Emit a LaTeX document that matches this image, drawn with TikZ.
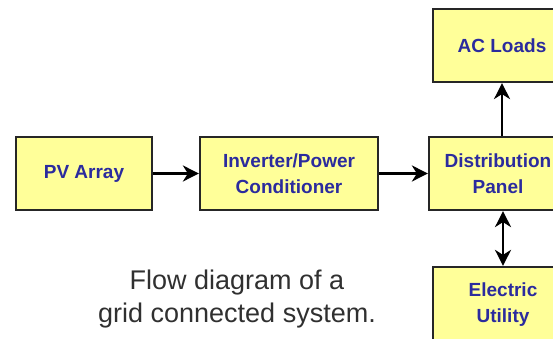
\documentclass[tikz,border=0pt]{standalone}
\usepackage{fontspec}
\setmainfont{Liberation Sans}
\usetikzlibrary{arrows.meta}
\definecolor{boxfill}{HTML}{FFFF99}
\definecolor{boxline}{HTML}{262626}
\definecolor{labelblue}{HTML}{2B2B9E}
\definecolor{captiongray}{HTML}{303030}
\tikzset{
  block/.style={rectangle, draw=boxline, fill=boxfill, line width=2.2pt, align=center,
                minimum height=73pt, text=labelblue, font=\fontsize{19}{26}\selectfont\bfseries},
  flow/.style={-{Stealth[length=16pt,width=16pt,inset=5pt]}, draw=black, line width=2.5pt},
  twoway/.style={{Stealth[length=16pt,width=16pt,inset=5pt]}-{Stealth[length=16pt,width=16pt,inset=5pt]},
                draw=black, line width=2.5pt},
  caption/.style={align=center, text=captiongray, font=\fontsize{27}{33}\selectfont},
}
\begin{document}
\begin{tikzpicture}[x=1pt,y=1pt]
\useasboundingbox (0,0) rectangle (553,339);
\clip (0,0) rectangle (553,339);

\node[block, minimum width=136pt] (pv)   at (84,165.5)    {PV Array};
\node[block, minimum width=178pt] (inv)  at (289,165.5)   {Inverter/Power\\Conditioner};
\node[block, minimum width=138pt] (dist) at (498,165.5)   {Distribution\\Panel};
\node[block, minimum width=138pt] (ac)   at (502,293.5)   {AC Loads};
\node[block, minimum width=140pt, minimum height=75pt] (util) at (503,34.5) {Electric\\Utility};

\draw[flow](pv)--(inv); \draw[flow](inv)--(dist);
\draw[flow](ac.south |- dist.north)--(ac.south);
\draw[twoway](util.north |- dist.south)--(util.north);

\node[caption] (cap) at (237,40) {Flow diagram of a\\grid connected system.};
\end{tikzpicture}
\end{document}
